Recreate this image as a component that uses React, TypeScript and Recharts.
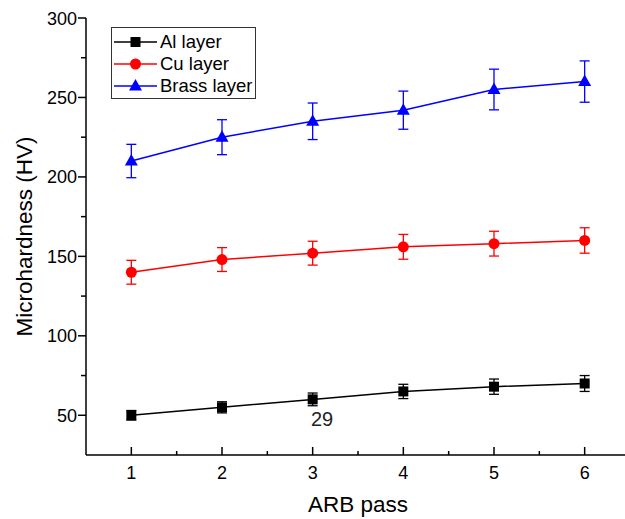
import React from 'react';
import { LineChart, Line, XAxis, YAxis, ErrorBar, Legend } from 'recharts';

const passes = [1, 2, 3, 4, 5, 6];
const alValues = [50, 55, 60, 65, 68, 70];
const alErrors = [3, 3.5, 4, 4.5, 4.8, 5];
const cuValues = [140, 148, 152, 156, 158, 160];
const cuErrors = [7.5, 7.5, 7.5, 7.8, 7.8, 8];
const brassValues = [210, 225, 235, 242, 255, 260];
const brassErrors = [10.5, 11, 11.5, 12, 12.8, 13];

const xTicks = [1, 1.5, 2, 2.5, 3, 3.5, 4, 4.5, 5, 5.5, 6];
const yTicks = [50, 75, 100, 125, 150, 175, 200, 225, 250, 275, 300];
const seriesNames = ['Al layer', 'Cu layer', 'Brass layer'];
const seriesColors = ['#000000', '#FF0000', '#0000FF'];

const data = passes.map((p, i) => ({
  pass: p,
  al: alValues[i],
  alErr: alErrors[i],
  cu: cuValues[i],
  cuErr: cuErrors[i],
  brass: brassValues[i],
  brassErr: brassErrors[i],
}));

const FONT = "Arial, 'Liberation Sans', sans-serif";

const Square = (props: any) => {
  const { cx, cy, fill } = props;
  if (cx == null || cy == null) return null;
  return <rect x={cx - 5} y={cy - 5} width={10} height={10} fill={fill} />;
};
const Circle = (props: any) => {
  const { cx, cy, fill } = props;
  if (cx == null || cy == null) return null;
  return <circle cx={cx} cy={cy} r={5.5} fill={fill} />;
};
const Triangle = (props: any) => {
  const { cx, cy, fill } = props;
  if (cx == null || cy == null) return null;
  return <polygon points={`${cx},${cy - 7} ${cx - 6.5},${cy + 4.5} ${cx + 6.5},${cy + 4.5}`} fill={fill} />;
};
const markers = [Square, Circle, Triangle];

const XTick = (props: any) => {
  const { x, y, payload } = props;
  const v = payload.value;
  const major = Number.isInteger(v);
  return (
    <g>
      <line x1={x} x2={x} y1={y} y2={y - (major ? 8 : 4)} stroke="#000" strokeWidth={1.5} />
      {major && (
        <text x={x} y={y + 24} textAnchor="middle" fontSize={18} fontFamily={FONT} fill="#000">
          {v}
        </text>
      )}
    </g>
  );
};

const YTick = (props: any) => {
  const { x, y, payload } = props;
  const v = payload.value;
  const major = v % 50 === 0;
  return (
    <g>
      <line x1={x} x2={x - (major ? 8 : 5)} y1={y} y2={y} stroke="#000" strokeWidth={1.5} />
      {major && (
        <text x={x - 9} y={y + 6.5} textAnchor="end" fontSize={18} fontFamily={FONT} fill="#000">
          {v}
        </text>
      )}
    </g>
  );
};

const LegendBox = () => (
  <div
    style={{
      width: 145,
      height: 72,
      border: '1px solid #333',
      boxSizing: 'border-box',
      background: '#fff',
      fontFamily: FONT,
      fontSize: 18.5,
      position: 'relative',
    }}
  >
    {seriesNames.map((name, i) => {
      const M = markers[i];
      const top = [13.7, 35.7, 58.3][i];
      return (
        <div key={name} style={{ position: 'absolute', left: 0, top: top - 11, height: 22, width: 145 }}>
          <svg width={46} height={22} style={{ position: 'absolute', left: 1, top: 0 }}>
            <line x1={1} x2={44} y1={11} y2={11} stroke={seriesColors[i]} strokeWidth={1.5} />
            <M cx={22.5} cy={11} fill={seriesColors[i]} />
          </svg>
          <span style={{ position: 'absolute', left: 48, top: 0, lineHeight: '22px', color: '#000', whiteSpace: 'nowrap' }}>
            {name}
          </span>
        </div>
      );
    })}
  </div>
);

export default function App() {
  return (
    <div style={{ position: 'absolute', left: 0, top: 0, width: 625, height: 519, overflow: 'hidden', background: '#fff' }}>
      <LineChart
        width={660}
        height={519}
        data={data}
        margin={{ top: 18, right: 30, bottom: 0, left: 0 }}
        style={{ fontFamily: FONT }}
      >
        <XAxis
          xAxisId="top"
          orientation="top"
          type="number"
          dataKey="pass"
          domain={[0.5, 6.5]}
          tick={false}
          tickLine={false}
          height={0}
          axisLine={{ stroke: '#000', strokeWidth: 1.5 }}
        />
        <XAxis
          type="number"
          dataKey="pass"
          domain={[0.5, 6.5]}
          ticks={xTicks}
          interval={0}
          tick={<XTick />}
          tickLine={false}
          tickSize={0}
          tickMargin={0}
          height={64}
          axisLine={{ stroke: '#000', strokeWidth: 1.5 }}
          label={{
            value: 'ARB pass',
            content: (p: any) => {
              const vb = p.viewBox || { x: 86, y: 455, width: 544, height: 64 };
              return (
                <text x={vb.x + vb.width / 2} y={vb.y + 57} textAnchor="middle" fontSize={22.5} fontFamily={FONT} fill="#000">
                  ARB pass
                </text>
              );
            },
          }}
        />
        <YAxis
          type="number"
          domain={[25, 300]}
          ticks={yTicks}
          interval={0}
          tick={<YTick />}
          tickLine={false}
          tickSize={0}
          tickMargin={0}
          width={86}
          axisLine={{ stroke: '#000', strokeWidth: 1.5 }}
          label={{
            value: 'Microhardness (HV)',
            content: (p: any) => {
              const vb = p.viewBox || { x: 0, y: 18, width: 86, height: 437 };
              const cx = vb.x + 32;
              const cy = vb.y + vb.height / 2;
              return (
                <text
                  x={cx}
                  y={cy}
                  transform={`rotate(-90, ${cx}, ${cy})`}
                  textAnchor="middle"
                  fontSize={22.5}
                  fontFamily={FONT}
                  fill="#000"
                >
                  Microhardness (HV)
                </text>
              );
            },
          }}
        />
        <Legend
          verticalAlign="middle"
          align="center"
          layout="horizontal"
          wrapperStyle={{ left: 111, top: 27, width: 145, height: 72 }}
          content={() => <LegendBox />}
        />
        <Line
          dataKey="al"
          name={seriesNames[0]}
          stroke={seriesColors[0]}
          strokeWidth={1.5}
          dot={<Square fill={seriesColors[0]} />}
          isAnimationActive={false}
        >
          <ErrorBar dataKey="alErr" direction="y" width={5} stroke={seriesColors[0]} strokeWidth={1.3} />
        </Line>
        <Line
          dataKey="cu"
          name={seriesNames[1]}
          stroke={seriesColors[1]}
          strokeWidth={1.5}
          dot={<Circle fill={seriesColors[1]} />}
          isAnimationActive={false}
        >
          <ErrorBar dataKey="cuErr" direction="y" width={5} stroke={seriesColors[1]} strokeWidth={1.3} />
        </Line>
        <Line
          dataKey="brass"
          name={seriesNames[2]}
          stroke={seriesColors[2]}
          strokeWidth={1.5}
          dot={<Triangle fill={seriesColors[2]} />}
          isAnimationActive={false}
        >
          <ErrorBar dataKey="brassErr" direction="y" width={5} stroke={seriesColors[2]} strokeWidth={1.3} />
        </Line>
      </LineChart>
      <div
        style={{
          position: 'absolute',
          left: 311,
          top: 409,
          fontFamily: FONT,
          fontSize: 20,
          lineHeight: '20px',
          color: '#222',
        }}
      >
        29
      </div>
    </div>
  );
}
